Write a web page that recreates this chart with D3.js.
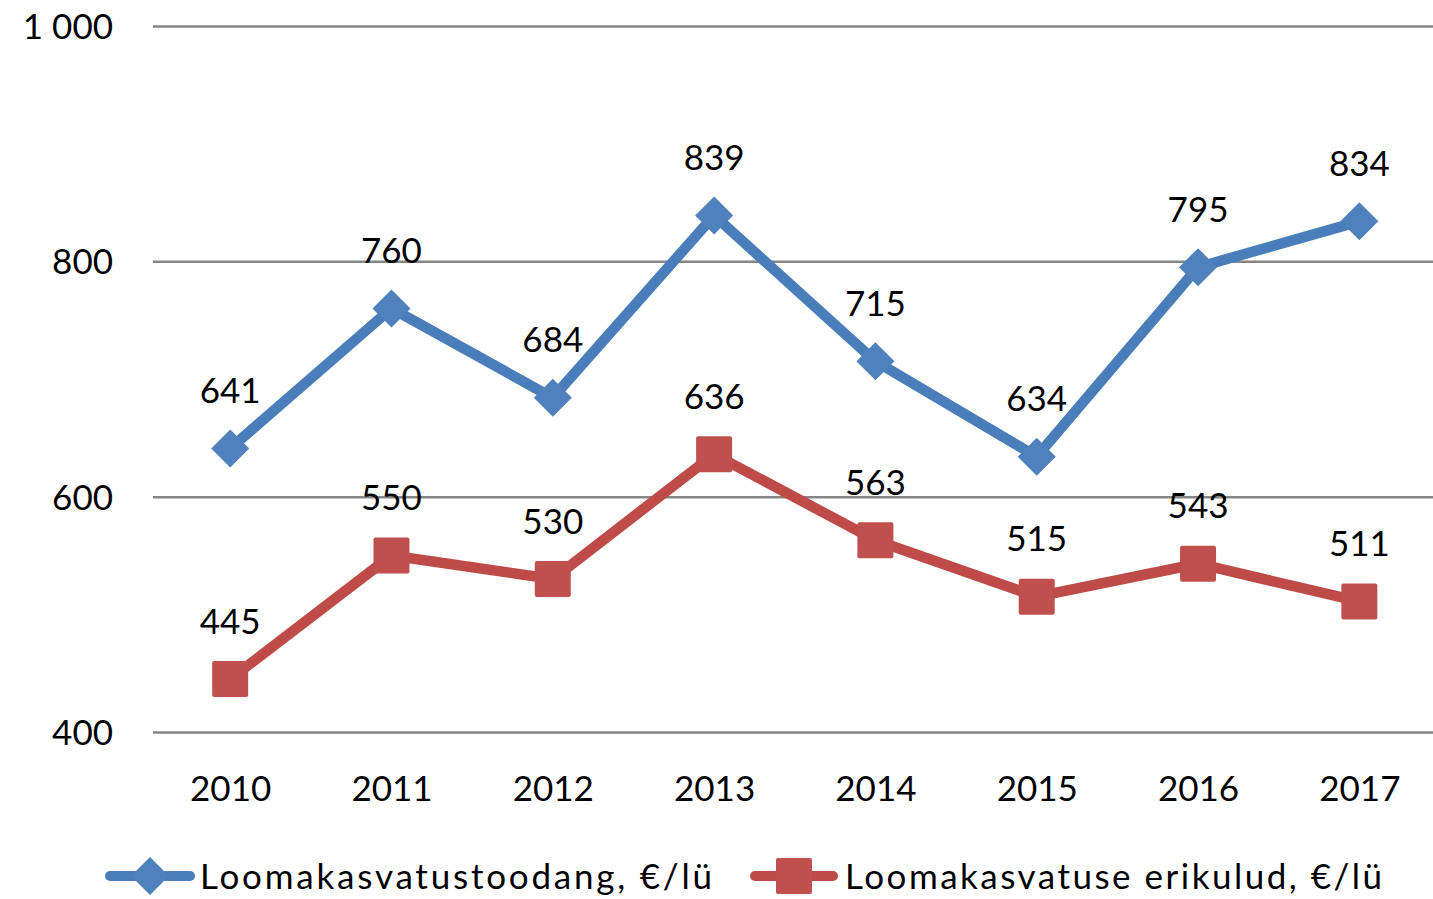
<!DOCTYPE html>
<html><head><meta charset="utf-8">
<script src="https://cdn.jsdelivr.net/npm/d3@7"></script>
<style>html,body{margin:0;padding:0;background:#fff;}svg{display:block;}</style>
</head><body>
<svg id="chart" width="1433" height="899"></svg>
<script>
const years = ["2010","2011","2012","2013","2014","2015","2016","2017"];
const production = [641, 760, 684, 839, 715, 634, 795, 834];
const costs = [445, 550, 530, 636, 563, 515, 543, 511];
const seriesNames = ["Loomakasvatustoodang, €/lü", "Loomakasvatuse erikulud, €/lü"];
const yTicks = [400, 600, 800, 1000];

const svg = d3.select("#chart");
const font = "Lato, 'Open Sans', sans-serif";
const fs = 35;

const x = d3.scalePoint().domain(years).range([149.5, 1440]).padding(0.5);
const y = d3.scaleLinear().domain([400, 1000]).range([732, 26]);

// gridlines + y labels
const yAxis = d3.axisLeft(y).tickValues(yTicks).tickSize(-(1433 - 153)).tickPadding(40)
  .tickFormat(d => d3.format(",")(d).replace(",", "\u00a0"));
const gy = svg.append("g").attr("transform", "translate(153,0)").call(yAxis);
gy.select(".domain").remove();
gy.selectAll(".tick line").attr("stroke", "#868686").attr("stroke-width", 2.5);
gy.selectAll(".tick text").attr("font-family", font).attr("font-size", fs).attr("fill", "#000")
  .attr("dy", "0.36em").attr("xml:space", "preserve").style("white-space", "pre");

// x labels
const xAxis = d3.axisBottom(x).tickSize(0).tickPadding(43);
const gx = svg.append("g").attr("transform", "translate(0,732)").call(xAxis);
gx.select(".domain").remove();
gx.selectAll(".tick text").attr("font-family", font).attr("font-size", fs).attr("fill", "#000")
  .attr("dy", "0.36em").attr("y", 56);

const series = [
  {name: seriesNames[0], values: production, line: "#4A7EBB", fill: "#4F81BD", shape: "diamond"},
  {name: seriesNames[1], values: costs, line: "#BE4B48", fill: "#C0504D", shape: "square"}
];

const line = d3.line().x((d, i) => x(years[i])).y(d => y(d));

function marker(g, shape, cx, cy, color) {
  if (shape === "diamond") {
    g.append("path").attr("d", `M${cx},${cy-19}L${cx+19},${cy}L${cx},${cy+19}L${cx-19},${cy}Z`).attr("fill", color);
  } else {
    g.append("rect").attr("x", cx - 18).attr("y", cy - 18).attr("width", 36).attr("height", 36)
      .attr("rx", 2).attr("fill", color);
  }
}

series.forEach(s => {
  svg.append("path").datum(s.values).attr("d", line).attr("fill", "none")
    .attr("stroke", s.line).attr("stroke-width", 10.5).attr("stroke-linejoin", "round");
  const g = svg.append("g");
  s.values.forEach((v, i) => marker(g, s.shape, x(years[i]), y(v), s.fill));
  svg.append("g").selectAll("text").data(s.values).join("text")
    .attr("x", (d, i) => x(years[i])).attr("y", d => y(d) - 58).attr("dy", "0.36em")
    .attr("text-anchor", "middle").attr("font-family", font).attr("font-size", fs).attr("fill", "#000")
    .text(d => d);
});

// legend
const legendItems = [
  {s: series[0], x0: 105, x1: 195, tx: 200, tw: 512},
  {s: series[1], x0: 750, x1: 838, tx: 845, tw: 537}
];
const ly = 876;
legendItems.forEach(li => {
  const g = svg.append("g");
  g.append("line").attr("x1", li.x0 + 5).attr("x2", li.x1 - 5).attr("y1", ly).attr("y2", ly)
    .attr("stroke", li.s.line).attr("stroke-width", 10).attr("stroke-linecap", "round");
  marker(g, li.s.shape, (li.x0 + li.x1) / 2, ly, li.s.fill);
  g.append("text").attr("x", li.tx).attr("y", ly).attr("dy", "0.36em")
    .attr("font-family", font).attr("font-size", fs).attr("fill", "#000")
    .attr("textLength", li.tw).attr("lengthAdjust", "spacing")
    .text(li.s.name);
});
</script>
</body></html>
